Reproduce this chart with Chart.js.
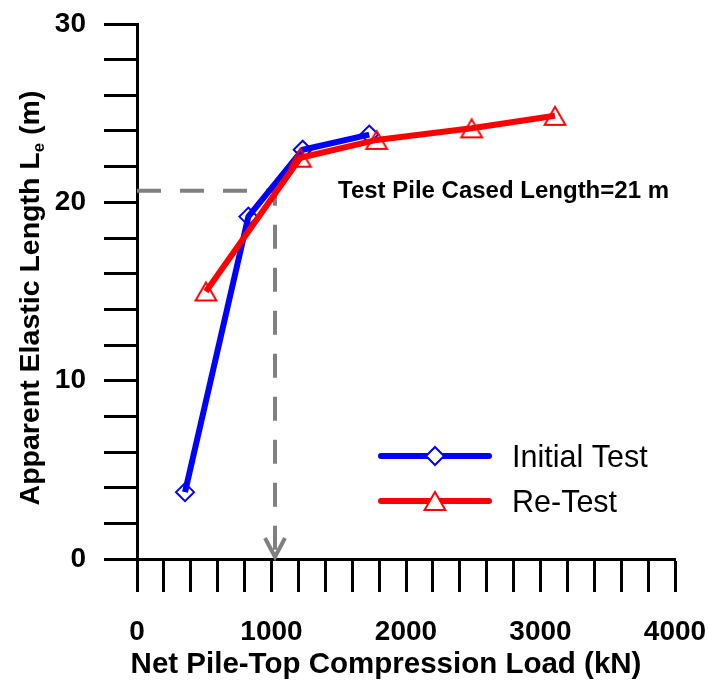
<!DOCTYPE html>
<html>
<head>
<meta charset="utf-8">
<title>Apparent Elastic Length vs Net Pile-Top Load</title>
<script src="https://cdn.jsdelivr.net/npm/chart.js@4.4.0/dist/chart.umd.min.js"></script>
<style>
  html, body { margin: 0; padding: 0; background: #ffffff; }
  #wrap { width: 708px; height: 680px; }
</style>
</head>
<body>
<div id="wrap"><canvas id="chart"></canvas></div>
<script>
// values
const initialLoad = [357, 828, 1232, 1727];
const initialLength = [3.75, 19.2, 22.95, 23.8];
const retestLoad = [513, 1215, 1782, 2488, 3108];
const retestLength = [15.0, 22.5, 23.5, 24.15, 24.85];
const guideLoad = [0, 1026, 1026];
const guideLength = [20.65, 20.65, 0];
const xLabels = [0, 1000, 2000, 3000, 4000];
const yLabels = [0, 10, 20, 30];
const seriesNames = ['Initial Test', 'Re-Test'];
const noteText = 'Test Pile Cased Length=21 m';

const FONT = '"Liberation Sans", Arial, Helvetica, sans-serif';
const BLUE = '#0000ff';
const RED = '#ff0000';
const GREY = '#808080';

function toPoints(xs, ys) {
  return xs.map((v, i) => ({ x: v, y: ys[i] }));
}

function drawDiamond(ctx, x, y, r) {
  ctx.beginPath();
  ctx.moveTo(x - r, y);
  ctx.lineTo(x, y - r);
  ctx.lineTo(x + r, y);
  ctx.lineTo(x, y + r);
  ctx.closePath();
}

// triangle centred on its bounding box, like the source plot
function drawTriangle(ctx, x, y, r) {
  const h = r * 1.5;
  ctx.beginPath();
  ctx.moveTo(x, y - h / 2);
  ctx.lineTo(x + r * 0.866, y + h / 2);
  ctx.lineTo(x - r * 0.866, y + h / 2);
  ctx.closePath();
}

function makeTriangleMarker(color, r) {
  const c = document.createElement('canvas');
  c.width = 30;
  c.height = 30;
  const g = c.getContext('2d');
  g.strokeStyle = color;
  g.lineWidth = 2;
  drawTriangle(g, 15, 15, r);
  g.stroke();
  return c;
}

/**
 * Arrow head, note, legend and axis titles.
 */
const overlayPlugin = {
  id: 'overlay',
  afterDatasetsDraw(chart) {
    const { ctx, scales: { x, y } } = chart;
    ctx.save();

    // arrow head where the guide meets the x axis
    const last = guideLoad.length - 1;
    const ax = x.getPixelForValue(guideLoad[last]);
    const ay = y.getPixelForValue(guideLength[last]);
    ctx.strokeStyle = GREY;
    ctx.lineWidth = 4;
    ctx.lineJoin = 'miter';
    ctx.beginPath();
    ctx.moveTo(ax - 10, ay - 21);
    ctx.lineTo(ax, ay - 2);
    ctx.lineTo(ax + 10, ay - 21);
    ctx.stroke();

    // note next to the guide
    ctx.fillStyle = '#000';
    ctx.font = 'bold 24px ' + FONT;
    ctx.textAlign = 'left';
    ctx.textBaseline = 'middle';
    ctx.fillText(noteText, 338, y.getPixelForValue(guideLength[0]) + 1);

    // legend
    const rows = [
      { name: seriesNames[0], color: BLUE, shape: 'diamond', y: 456 },
      { name: seriesNames[1], color: RED, shape: 'triangle', y: 501 }
    ];
    rows.forEach(r => {
      ctx.strokeStyle = r.color;
      ctx.lineWidth = 6;
      ctx.lineCap = 'round';
      ctx.beginPath();
      ctx.moveTo(381, r.y);
      ctx.lineTo(489, r.y);
      ctx.stroke();
      ctx.lineCap = 'butt';
      ctx.lineWidth = 2;
      ctx.fillStyle = '#fff';
      if (r.shape === 'diamond') drawDiamond(ctx, 435, r.y, 9);
      else drawTriangle(ctx, 435, r.y, 12);
      ctx.fill();
      ctx.stroke();
      ctx.fillStyle = '#000';
      ctx.font = '30.5px ' + FONT;
      ctx.textBaseline = 'alphabetic';
      ctx.fillText(r.name, 512, r.y + 11);
    });
    ctx.restore();
  },
  afterDraw(chart) {
    const { ctx } = chart;
    ctx.save();
    ctx.fillStyle = '#000';

    // x title
    ctx.font = 'bold 29.5px ' + FONT;
    ctx.textAlign = 'center';
    ctx.textBaseline = 'alphabetic';
    ctx.fillText('Net Pile-Top Compression Load (kN)', 386, 673);

    // y title with subscript e
    const main = 'Apparent Elastic Length L';
    const sub = 'e';
    const tail = ' (m)';
    ctx.translate(29, 298);
    ctx.rotate(-Math.PI / 2);
    ctx.textAlign = 'left';
    ctx.font = 'bold 28.5px ' + FONT;
    const wMain = ctx.measureText(main).width;
    const wTail = ctx.measureText(tail).width;
    ctx.font = 'bold 17px ' + FONT;
    const wSub = ctx.measureText(sub).width;
    let cx = -(wMain + wSub + wTail) / 2;
    ctx.font = 'bold 28.5px ' + FONT;
    ctx.fillText(main, cx, 10);
    cx += wMain;
    ctx.font = 'bold 17px ' + FONT;
    ctx.fillText(sub, cx, 15);
    cx += wSub;
    ctx.font = 'bold 28.5px ' + FONT;
    ctx.fillText(tail, cx, 10);
    ctx.restore();
  }
};

const AXIS_GRID = {
  drawOnChartArea: false,
  drawTicks: true,
  tickLength: 33,
  tickWidth: 3,
  tickColor: '#000'
};

new Chart(document.getElementById('chart'), {
  type: 'scatter',
  data: {
    datasets: [
      {
        label: seriesNames[1],
        data: toPoints(retestLoad, retestLength),
        showLine: true,
        borderColor: RED,
        borderWidth: 6,
        backgroundColor: 'transparent',
        pointStyle: makeTriangleMarker(RED, 12),
        pointRadius: 12,
        order: 0
      },
      {
        label: seriesNames[0],
        data: toPoints(initialLoad, initialLength),
        showLine: true,
        borderColor: BLUE,
        borderWidth: 6,
        backgroundColor: 'transparent',
        pointStyle: 'rectRot',
        pointRadius: 9,
        pointBorderWidth: 2,
        pointBorderColor: BLUE,
        pointBackgroundColor: 'transparent',
        order: 1
      },
      {
        label: 'guide',
        data: toPoints(guideLoad, guideLength),
        showLine: true,
        borderColor: GREY,
        borderWidth: 4,
        borderDash: [24, 19],
        pointRadius: 0,
        order: 2
      }
    ]
  },
  options: {
    responsive: true,
    maintainAspectRatio: false,
    animation: false,
    events: [],
    layout: { padding: { top: 24, right: 33, left: 0, bottom: 0 } },
    plugins: {
      legend: { display: false },
      tooltip: { enabled: false }
    },
    scales: {
      x: {
        type: 'linear',
        min: 0,
        max: 4000,
        grid: AXIS_GRID,
        border: { color: '#000', width: 3 },
        afterFit: (s) => {
          s.height = 121;
          s.paddingLeft = 0;
          s.paddingRight = 0;
        },
        ticks: {
          stepSize: 200,
          autoSkip: false,
          maxRotation: 0,
          padding: 23,
          color: '#000',
          font: { family: FONT, size: 28, weight: 'bold' },
          callback: (v) => xLabels.includes(v) ? String(v) : ''
        }
      },
      y: {
        type: 'linear',
        min: 0,
        max: 30,
        grid: AXIS_GRID,
        border: { color: '#000', width: 3 },
        afterFit: (s) => {
          s.width = 137;
          s.paddingTop = 0;
          s.paddingBottom = 0;
        },
        ticks: {
          stepSize: 2,
          autoSkip: false,
          padding: 18,
          color: '#000',
          font: { family: FONT, size: 28, weight: 'bold' },
          callback: (v) => yLabels.includes(v) ? String(v) : ''
        }
      }
    }
  },
  plugins: [overlayPlugin]
});
</script>
</body>
</html>
